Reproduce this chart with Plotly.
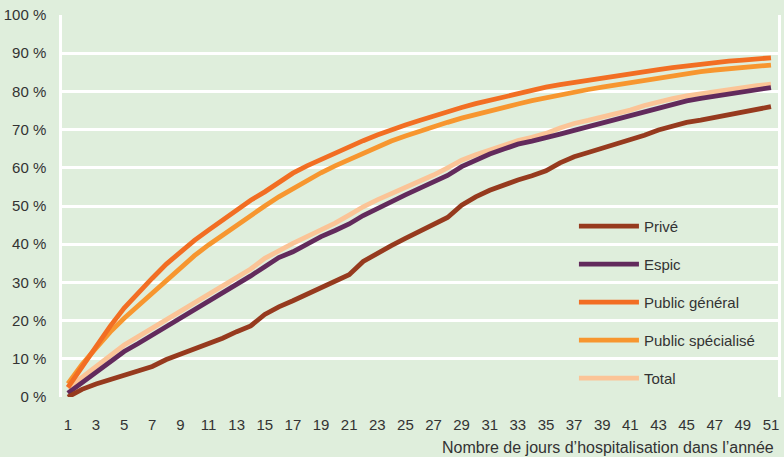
import plotly.graph_objects as go

days = list(range(1, 52))

prive = [0, 2, 3.4, 4.6, 5.8, 7, 8, 9.8, 11.2, 12.4, 13.7, 15.4, 17.1, 18.6, 21.6, 23.6, 25.2, 26.9, 28.6, 30.2,
         32, 35.5, 37.7, 39.6, 41.5, 43.4, 45, 47, 50.2, 52.4, 54.1, 55.5, 56.8, 57.9, 59.2, 61.3, 62.9, 64, 65.1, 66.2,
         67.3, 68.5, 69.9, 71, 71.9, 72.5, 73.2, 73.9, 74.6, 75.4, 76]
espic = [1, 3.8, 6.6, 9.4, 11.9, 14, 16.2, 18.5, 20.6, 22.7, 24.9, 27.1, 29.3, 31.7, 34.1, 36.5, 38, 40, 42, 43.6,
         45.3, 47.5, 49.4, 51.2, 52.9, 54.6, 56.2, 58, 60.3, 62.1, 63.6, 64.9, 66.2, 67, 67.8, 68.8, 69.8, 70.8, 71.6, 72.6,
         73.7, 74.8, 75.8, 76.7, 77.5, 78.2, 78.8, 79.4, 79.9, 80.5, 81]
public_general = [2.5, 8, 13.2, 18.5, 23.3, 27.3, 31.1, 34.8, 38, 41, 43.7, 46.4, 49, 51.5, 53.7, 56.3, 58.6, 60.5, 62.2, 63.9,
                  65.5, 67.1, 68.6, 70, 71.2, 72.4, 73.6, 74.7, 75.8, 76.8, 77.7, 78.6, 79.5, 80.3, 81.1, 81.8, 82.4, 82.9, 83.4, 84,
                  84.7, 85.2, 85.7, 86.2, 86.7, 87.1, 87.5, 87.9, 88.2, 88.5, 88.8]
public_specialise = [3.5, 8.5, 12.8, 17, 20.6, 23.9, 27.1, 30.7, 34.1, 37, 39.8, 42.4, 45, 47.5, 50, 52.4, 54.6, 56.7, 58.7, 60.5,
                     62.2, 63.9, 65.5, 67, 68.3, 69.6, 70.8, 71.9, 73, 74, 74.9, 75.8, 76.7, 77.6, 78.4, 79.1, 79.8, 80.5, 81.1, 81.7,
                     82.4, 83, 83.6, 84.2, 84.7, 85.2, 85.6, 86, 86.3, 86.6, 86.9]
total = [2.3, 5.2, 7.9, 10.9, 13.6, 15.8, 18, 20.3, 22.3, 24.5, 26.7, 28.9, 31.1, 33.5, 36.3, 38.4, 40.2, 42, 43.7, 45.5,
         47.6, 49.8, 51.6, 53.2, 54.6, 56.3, 58.1, 60, 62, 63.4, 64.7, 66, 67.1, 68, 69, 70.4, 71.6, 72.4, 73.2, 74.1,
         75.1, 76.3, 77.3, 78.1, 78.8, 79.4, 79.9, 80.5, 81, 81.5, 81.9]

x_ticks = list(range(1, 52, 2))
y_ticks = list(range(0, 101, 10))

series = [
    ("Privé", prive, "#963a1e"),
    ("Espic", espic, "#622a5c"),
    ("Public général", public_general, "#f26e23"),
    ("Public spécialisé", public_specialise, "#f7962f"),
    ("Total", total, "#fbc497"),
]

BG = "#dfeedc"
FONT = "Liberation Sans, Arial, sans-serif"

fig = go.Figure()
draw_order = [4, 3, 2, 1, 0]
for i in draw_order:
    name, vals, col = series[i]
    fig.add_trace(go.Scatter(
        x=days, y=vals, name=name, mode="lines",
        line=dict(color=col, width=4.8),
        legendrank=i + 1, legendgroup=name,
    ))

fig.update_layout(
    width=784, height=457,
    paper_bgcolor=BG, plot_bgcolor=BG,
    margin=dict(l=62, r=3, t=15, b=60),
    font=dict(family=FONT, size=15, color="#333333"),
    showlegend=True,
    legend=dict(
        x=0.715, y=0.49, xanchor="left", yanchor="top",
        bgcolor="rgba(0,0,0,0)", font=dict(size=15, color="#333333"),
        tracegroupgap=15.5, itemwidth=60,
    ),
    xaxis=dict(
        range=[0.58, 51.5], tickmode="array", tickvals=x_ticks,
        ticktext=[str(v) for v in x_ticks],
        showgrid=False, zeroline=False, showline=False,
        ticks="", ticklabelstandoff=17,
        tickfont=dict(size=15, color="#333333"),
    ),
    yaxis=dict(
        range=[0, 100], tickmode="array", tickvals=y_ticks,
        ticktext=[f"{v} %" for v in y_ticks],
        showgrid=True, gridcolor="white", gridwidth=2.5,
        zeroline=False, showline=True, linecolor="white", linewidth=2.5, mirror=True,
        ticks="", ticklabelstandoff=10,
        tickfont=dict(size=15, color="#333333"),
    ),
    annotations=[dict(
        text="Nombre de jours d’hospitalisation dans l’année",
        xref="paper", yref="paper", x=0.997, y=-0.131, xanchor="right", yanchor="middle",
        showarrow=False, font=dict(size=16, color="#333333"),
    )],
)

fig.write_html("out.html", config={"displayModeBar": False},
               post_script="document.body.style.margin='0';")
